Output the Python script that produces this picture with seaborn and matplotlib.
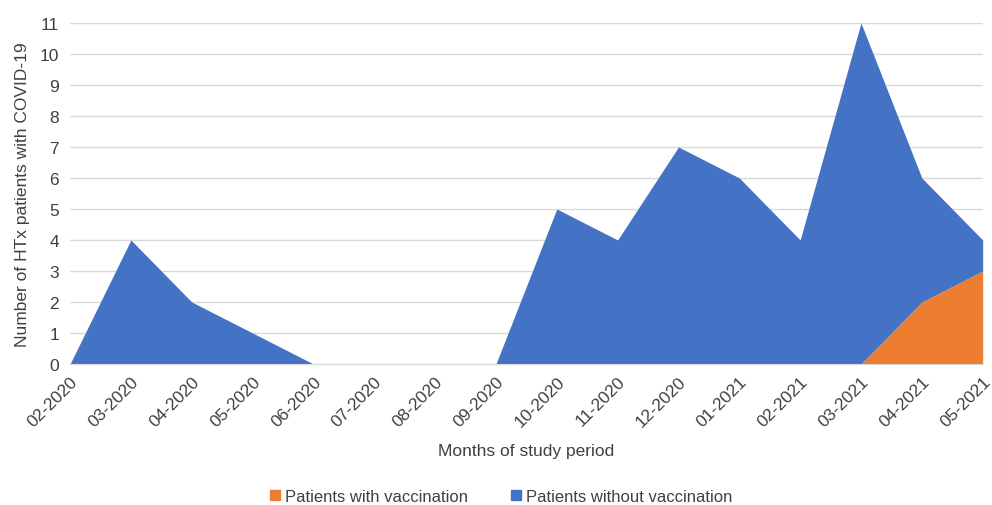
import numpy as np
import pandas as pd
import matplotlib
matplotlib.use("Agg")
import matplotlib.pyplot as plt
import seaborn as sns
from matplotlib.patches import Patch

# data
months = ['02-2020', '03-2020', '04-2020', '05-2020', '06-2020', '07-2020',
          '08-2020', '09-2020', '10-2020', '11-2020', '12-2020', '01-2021',
          '02-2021', '03-2021', '04-2021', '05-2021']
with_vacc = [0, 0, 0, 0, 0, 0, 0, 0, 0, 0, 0, 0, 0, 0, 2, 3]
without_vacc = [0, 4, 2, 1, 0, 0, 0, 0, 5, 4, 7, 6, 4, 11, 4, 1]

blue = '#4472C4'
orange = '#ED7D31'

sns.set_style('white')
plt.rcParams['font.family'] = ['Liberation Sans', 'DejaVu Sans']

df = pd.DataFrame({'month': months, 'with': with_vacc, 'without': without_vacc})
x = np.arange(len(df))
total = df['with'] + df['without']

fig = plt.figure(figsize=(9.92, 5.06), dpi=100)
ax = fig.add_axes([0.0706, 0.2787, 0.920, 0.674])

# stacked areas: vaccinated at the bottom, unvaccinated on top
ax.fill_between(x, 0, df['with'], color=orange, linewidth=0, zorder=3)
ax.fill_between(x, df['with'], total, color=blue, linewidth=0, zorder=3)

ax.set_xlim(0, len(df) - 1)
ax.set_ylim(0, 11)
ax.set_yticks(range(0, 12))
ax.set_xticks(x)
ax.set_xticklabels(df['month'], rotation=45, ha='right', rotation_mode='anchor')

ax.grid(axis='y', color='#d9d9d9', linewidth=1, zorder=0)
for s in ['top', 'right', 'left']:
    ax.spines[s].set_visible(False)
ax.spines['bottom'].set_color('#d9d9d9')
ax.spines['bottom'].set_zorder(4)
ax.tick_params(axis='x', length=5, color='#d9d9d9', labelsize=12.5, labelcolor='#404040', pad=2)
ax.tick_params(axis='y', length=0, labelsize=12.5, labelcolor='#404040', pad=8)

ax.set_xlabel('Months of study period', fontsize=12.5, color='#404040', labelpad=10)
ax.set_ylabel('Number of HTx patients with COVID-19', fontsize=12.5, color='#404040', labelpad=7)

handles = [Patch(color=orange, label='Patients with vaccination'),
           Patch(color=blue, label='Patients without vaccination')]
fig.legend(handles=handles, loc='center', bbox_to_anchor=(0.505, 0.017), ncol=2,
           frameon=False, fontsize=12, handlelength=0.6, handleheight=0.6,
           handletextpad=0.3, columnspacing=2.6, labelcolor='#404040')

fig.savefig('out.png', dpi=100)
